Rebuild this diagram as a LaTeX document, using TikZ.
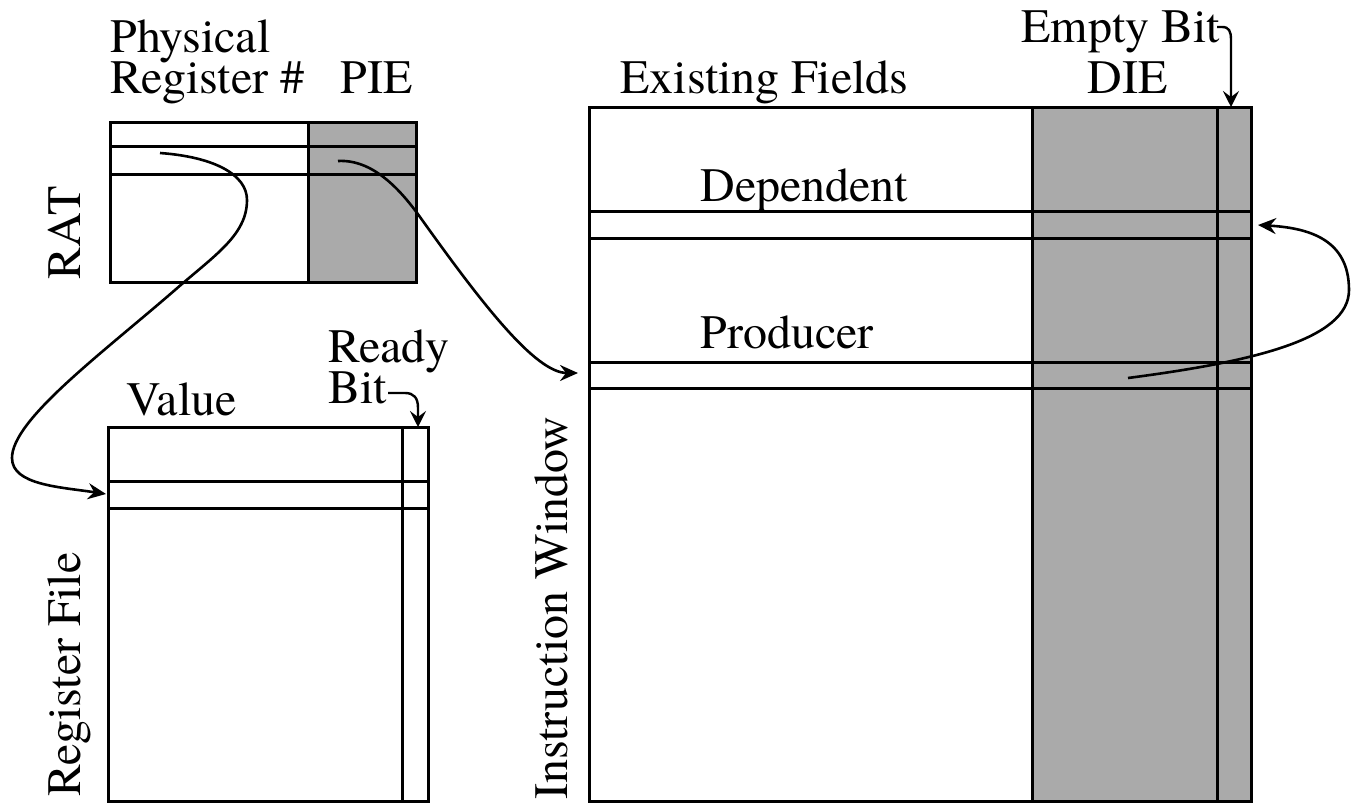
\documentclass[tikz,border=0pt]{standalone}
\usepackage{fontspec}
\setmainfont{TeX Gyre Termes}
\usetikzlibrary{arrows.meta}
\definecolor{fieldgrey}{RGB}{170,170,170}
\begin{document}
\begin{tikzpicture}[x=0.5pt,y=-0.5pt,
  lbl/.style={inner sep=0pt, anchor=base west, font=\rmfamily\fontsize{24}{20}\selectfont},
  vlbl/.style={lbl, rotate=90},
  frame/.style={line width=1.5pt},
  link/.style={line width=1.3pt, -{Stealth[length=9pt,width=8pt,inset=3pt]}},
  hook/.style={line width=1.2pt, -{Stealth[length=8pt,width=8pt,inset=3pt]}}]
\useasboundingbox (0,0) rectangle (1351,803);

% ---------- RAT ----------
\fill[fieldgrey] (308,122) rectangle (416,282);
\draw[frame] (110,122) rectangle (416,282);
\draw[frame] (308,122) -- (308,282);
\draw[frame] (110,146) -- (416,146);
\draw[frame] (110,174) -- (416,174);
\node[lbl] (phys) at (110,53) {Physical};
\node[lbl] (regno) at (110,93) {Register \#};
\node[lbl] (pie) at (340,93) {PIE};
\node[vlbl] (rat) at (80,280) {RAT};

% ---------- Register file ----------
\draw[frame] (108,427) rectangle (428,801);
\draw[frame] (402,427) -- (402,801);
\draw[frame] (108,481) -- (428,481);
\draw[frame] (108,508) -- (428,508);
\node[lbl] (value) at (126,415) {Value};
\node[lbl] (ready) at (328,362) {Ready};
\node[lbl] (bit) at (328,403) {Bit};
\node[vlbl] (rf) at (80,797) {Register File};

% ---------- Instruction window ----------
\fill[fieldgrey] (1032,107) rectangle (1251,801);
\draw[frame] (589,107) rectangle (1251,801);
\draw[frame] (1032,107) -- (1032,801);
\draw[frame] (1217,107) -- (1217,801);
\foreach \y in {211,238,362,388} \draw[frame] (589,\y) -- (1251,\y);
\node[lbl] (exist) at (620,93) {Existing Fields};
\node[lbl] (die) at (1087,93) {DIE};
\node[lbl] (empty) at (1021,42) {Empty Bit};
\node[lbl] (dep) at (700,201) {Dependent};
\node[lbl] (prod) at (700,348) {Producer};
\node[vlbl] (iw) at (567,800) {Instruction Window};

% ---------- connector end points ----------
\coordinate (ratreg) at (160,153);
\coordinate (rfrow) at (106,494);
\coordinate (ratpie) at (338,161);
\coordinate (iwrow) at (578,373);
\coordinate (prodsrc) at (1128,378);
\coordinate (deprow) at (1258,225);
\coordinate (readyhook) at (388,393);
\coordinate (readybit) at (418,427);
\coordinate (emptyhook) at (1217,27);
\coordinate (emptybit) at (1231,107);

% ---------- connectors ----------
\draw[link] (ratreg) .. controls (215,157) and (247,175) .. (247,200)
  .. controls (247,235) and (215,255) .. (175,290)
  .. controls (100,355) and (12,420) .. (12,458)
  .. controls (12,485) and (60,487) .. (rfrow);
\draw[link] (ratpie) .. controls (374,159) and (402,192) .. (420,217)
  .. controls (480,301) and (535,373) .. (iwrow);
\draw[link] (prodsrc) .. controls (1250,362) and (1349,340) .. (1349,290)
  .. controls (1349,240) and (1310,228) .. (deprow);
\draw[hook] (readyhook) -- (405,393) .. controls (414,393) and (418,398) .. (418,408) -- (readybit);
\draw[hook] (emptyhook) -- (1222,27) .. controls (1229,27) and (1231,31) .. (1231,40) -- (emptybit);
\end{tikzpicture}
\end{document}
